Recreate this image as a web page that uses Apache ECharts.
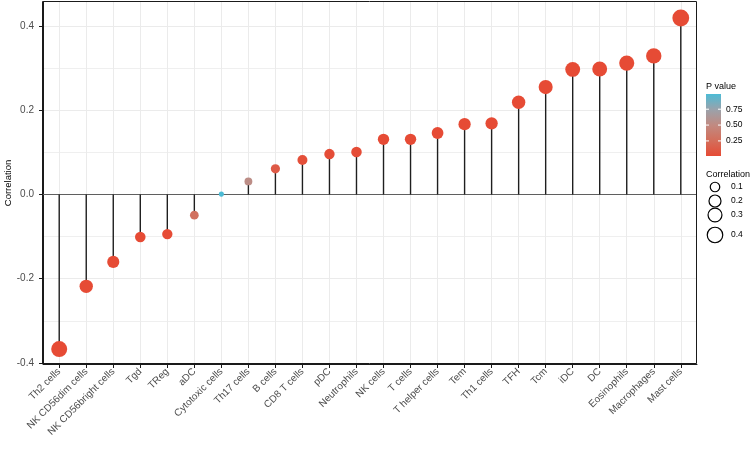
<!DOCTYPE html>
<html><head><meta charset="utf-8">
<script src="https://cdn.jsdelivr.net/npm/echarts@6/dist/echarts.min.js"></script>
<style>html,body{margin:0;padding:0;background:#fff}#c{width:752px;height:449px}</style>
</head><body><div id="c"></div>
<script>
const categories = ['Th2 cells','NK CD56dim cells','NK CD56bright cells','Tgd','TReg','aDC','Cytotoxic cells','Th17 cells','B cells','CD8 T cells','pDC','Neutrophils','NK cells','T cells','T helper cells','Tem','Th1 cells','TFH','Tcm','iDC','DC','Eosinophils','Macrophages','Mast cells'];
const correlation = [-0.367,-0.218,-0.160,-0.101,-0.094,-0.049,0.001,0.031,0.061,0.082,0.096,0.101,0.131,0.131,0.146,0.167,0.169,0.219,0.255,0.297,0.298,0.312,0.329,0.419];
const pValues = [0.012,0.012,0.012,0.015,0.016,0.28,0.99,0.53,0.12,0.04,0.025,0.02,0.013,0.013,0.012,0.012,0.012,0.012,0.012,0.012,0.012,0.012,0.012,0.012];
const yTickLabels = [-0.4,-0.2,0,0.2,0.4];
const yMinorTicks = [-0.3,-0.1,0.1,0.3];
const pTickLabels = [0.75,0.50,0.25];
const sizeLegendValues = [0.1,0.2,0.3,0.4];

const FONT = "'Liberation Sans', Arial, Helvetica, sans-serif";
const gradColors = ['#E64B35','#D36E5B','#C18A81','#9AA2AB','#4DBBD5'];
const sizeOf = v => 4.5 + 19 * Math.sqrt(Math.abs(v));
const pMin = Math.min(...pValues), pMax = Math.max(...pValues);
const idx = categories.map((c, i) => i);
const X_MIN = -0.6, X_MAX = categories.length - 1 + 0.6;
const Y_MIN = -0.4024, Y_MAX = 0.457;
const G = {left:43, right:55, top:2, bottom:85};

const chart = echarts.init(document.getElementById('c'));

// legend graphics, axis title, panel border
const barX = 706, barY = 94, barW = 15, barH = 62;
const g = [];
g.push({type:'rect', z:100, shape:{x:G.left-0.5, y:G.top-0.5, width:752-G.left-G.right, height:449-G.top-G.bottom}, style:{fill:'none', stroke:'#1a1a1a', lineWidth:1}, silent:true});
g.push({type:'text', x:8, y:183, rotation:Math.PI/2, style:{text:'Correlation', fontSize:9.5, fontFamily:FONT, fill:'#000', textAlign:'center', verticalAlign:'middle'}});
g.push({type:'text', left:706, top:82, style:{text:'P value', fontSize:9, fontFamily:FONT, fill:'#000'}});
g.push({type:'rect', shape:{x:barX, y:barY, width:barW, height:barH}, style:{fill:new echarts.graphic.LinearGradient(0,0,0,1, gradColors.slice().reverse().map((c,i,a)=>({offset:i/(a.length-1), color:c})))}});
pTickLabels.forEach(v => {
  const y = barY + barH - (v - pMin) / (pMax - pMin) * barH;
  g.push({type:'line', shape:{x1:barX, y1:y, x2:barX+3, y2:y}, style:{stroke:'#fff', lineWidth:1}});
  g.push({type:'line', shape:{x1:barX+barW-3, y1:y, x2:barX+barW, y2:y}, style:{stroke:'#fff', lineWidth:1}});
  g.push({type:'text', x:726, y:y, style:{text:v.toFixed(2), fontSize:8.5, fontFamily:FONT, fill:'#000', verticalAlign:'middle'}});
});
g.push({type:'text', left:706, top:170, style:{text:'Correlation', fontSize:9, fontFamily:FONT, fill:'#000'}});
const sizeY = [187, 201, 215, 235];
sizeLegendValues.forEach((v, i) => {
  g.push({type:'circle', shape:{cx:715, cy:sizeY[i], r:sizeOf(v)/2 - 0.5}, style:{fill:'none', stroke:'#000', lineWidth:1.2}});
  g.push({type:'text', x:731, y:sizeY[i], style:{text:String(v), fontSize:8.5, fontFamily:FONT, fill:'#000', verticalAlign:'middle'}});
});

const option = {
  backgroundColor:'#fff',
  animation:false,
  textStyle:{fontFamily:FONT},
  grid:{left:G.left, right:G.right, top:G.top, bottom:G.bottom, show:false, outerBoundsMode:'none', containLabel:false},
  xAxis:{
    type:'value', min:X_MIN, max:X_MAX,
    axisLine:{show:true, onZero:false, lineStyle:{color:'#1a1a1a', width:1}},
    axisTick:{show:true, length:4, customValues:idx, lineStyle:{color:'#1a1a1a'}},
    axisLabel:{customValues:idx, rotate:45, fontSize:10, color:'#4D4D4D', margin:6, fontFamily:FONT,
      formatter: v => categories[Math.round(v)] || ''},
    splitLine:{show:true, lineStyle:{color:'#EBEBEB', width:1}}
  },
  yAxis:[{
    type:'value', min:Y_MIN, max:Y_MAX, position:'left',
    axisLine:{show:true, onZero:false, lineStyle:{color:'#1a1a1a', width:1}},
    axisTick:{show:true, length:4, customValues:yTickLabels, lineStyle:{color:'#1a1a1a'}},
    axisLabel:{customValues:yTickLabels, fontSize:10, color:'#4D4D4D', margin:9, fontFamily:FONT,
      formatter: v => v.toFixed(1)},
    splitLine:{show:true, lineStyle:{color:'#EBEBEB', width:1}}
  },{
    type:'value', min:Y_MIN, max:Y_MAX, position:'right',
    axisLine:{show:false, onZero:false},
    axisTick:{show:false, customValues:yMinorTicks},
    axisLabel:{show:false, customValues:yMinorTicks},
    splitLine:{show:true, lineStyle:{color:'#EFEFEF', width:1}}
  }],
  visualMap:{show:false, type:'continuous', seriesIndex:1, dimension:2, min:pMin, max:pMax, inRange:{color:gradColors}},
  series:[{
    type:'bar', barWidth:1.4, itemStyle:{color:'#1f1f1f'}, silent:true, z:3,
    data: correlation.map((v,i)=>[i, v]),
    markLine:{z:2, silent:true, symbol:['none','none'], label:{show:false}, lineStyle:{color:'#5f5f5f', width:1, type:'solid'}, data:[{yAxis:0}]}
  },{
    type:'scatter', z:5,
    data: correlation.map((v,i)=>[i, v, pValues[i]]),
    symbolSize: val => sizeOf(val[1]),
    itemStyle:{opacity:1}
  }],
  graphic: g
};
chart.setOption(option);
</script></body></html>
